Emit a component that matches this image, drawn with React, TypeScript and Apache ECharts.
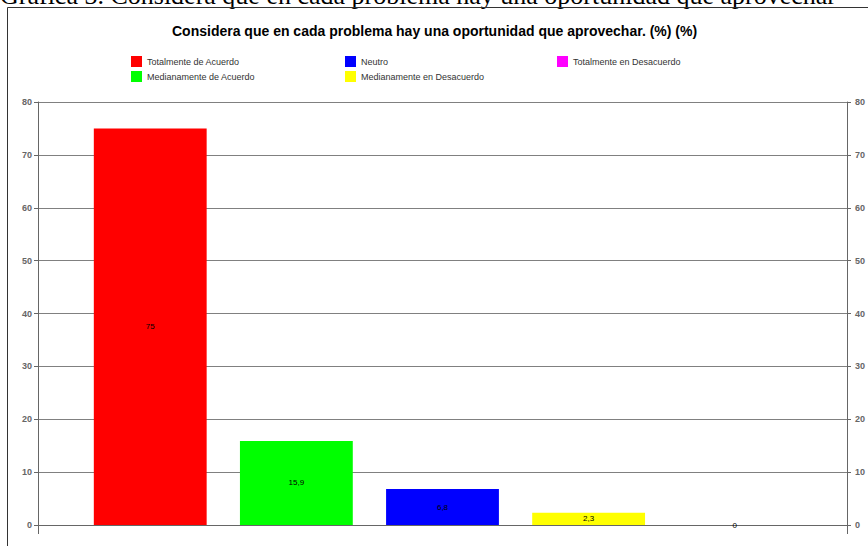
import React, { useEffect, useRef } from "react";
import * as echarts from "echarts";

const categories = [""];
const seriesNames = [
  "Totalmente de Acuerdo",
  "Medianamente de Acuerdo",
  "Neutro",
  "Medianamente en Desacuerdo",
  "Totalmente en Desacuerdo",
];
const seriesValues = [75, 15.9, 6.8, 2.3, 0];
const seriesColors = ["#ff0000", "#00ff00", "#0000ff", "#ffff00", "#ff00ff"];
const titleText = "Considera que en cada problema hay una oportunidad que aprovechar. (%) (%)";
const captionText = "Gráfica 3. Considera que en cada problema hay una oportunidad que aprovechar";

export default function App() {
  const ref = useRef<HTMLDivElement>(null);
  useEffect(() => {
    if (!ref.current) return;
    const chart = echarts.init(ref.current, null, { renderer: "svg" });
    const font = "'Liberation Sans', Arial, sans-serif";
    const legendCommon = {
      orient: "vertical",
      itemWidth: 11,
      itemHeight: 11,
      itemGap: 4,
      icon: "rect",
      textStyle: { fontSize: 9, color: "#333", fontFamily: font },
      padding: 0,
      selectedMode: false,
    };
    const yCommon = {
      type: "value",
      min: 0,
      max: 80,
      interval: 10,
      axisLine: { show: true, lineStyle: { color: "#666", width: 1 } },
      axisTick: { show: true, length: 4, lineStyle: { color: "#666" } },
    };
    const labelStyle = { fontSize: 9, color: "#666", fontWeight: "bold", fontFamily: font };
    chart.setOption({
      animation: false,
      backgroundColor: "#ffffff",
      title: {
        text: titleText,
        left: 172,
        top: 24,
        padding: 0,
        textStyle: { fontSize: 14, fontWeight: "bold", color: "#000", fontFamily: font },
      },
      legend: [
        { ...legendCommon, left: 131, top: 56, data: [seriesNames[0], seriesNames[1]] },
        { ...legendCommon, left: 345, top: 56, data: [seriesNames[2], seriesNames[3]] },
        { ...legendCommon, left: 557, top: 56, data: [seriesNames[4]] },
      ],
      graphic: [
        {
          type: "text",
          left: 0,
          top: -18,
          silent: true,
          style: {
            text: captionText,
            fontSize: 26,
            fontFamily: "'Liberation Serif', 'Times New Roman', serif",
            fill: "#000",
          },
        },
        {
          type: "rect",
          shape: { x: 7.5, y: 7.5, width: 900, height: 600 },
          silent: true,
          style: { fill: "none", stroke: "#333", lineWidth: 1 },
        },
      ],
      grid: { left: 38, right: 16, top: 102, bottom: 21, containLabel: false },
      xAxis: {
        type: "category",
        data: categories,
        axisLine: { show: true, lineStyle: { color: "#666", width: 1 } },
        axisTick: { show: true, length: 9, lineStyle: { color: "#666" } },
        axisLabel: { show: false },
      },
      yAxis: [
        {
          ...yCommon,
          position: "left",
          axisLabel: { ...labelStyle, margin: 6 },
          splitLine: { show: true, lineStyle: { color: "#808080", width: 1 } },
        },
        {
          ...yCommon,
          position: "right",
          axisLabel: { ...labelStyle, margin: 8 },
          splitLine: { show: false },
        },
      ],
      series: seriesNames.map((name, i) => ({
        name,
        type: "bar",
        data: [seriesValues[i]],
        barGap: "29.5%",
        barCategoryGap: "13.8%",
        itemStyle: { color: seriesColors[i] },
        label: {
          show: true,
          position: "inside",
          fontSize: 8,
          color: "#000",
          fontFamily: font,
          formatter: (p: any) => String(p.value).replace(".", ","),
        },
      })),
    });
    return () => chart.dispose();
  }, []);
  return (
    <div
      ref={ref}
      style={{ position: "fixed", left: 0, top: 0, width: 868, height: 546 }}
    />
  );
}
